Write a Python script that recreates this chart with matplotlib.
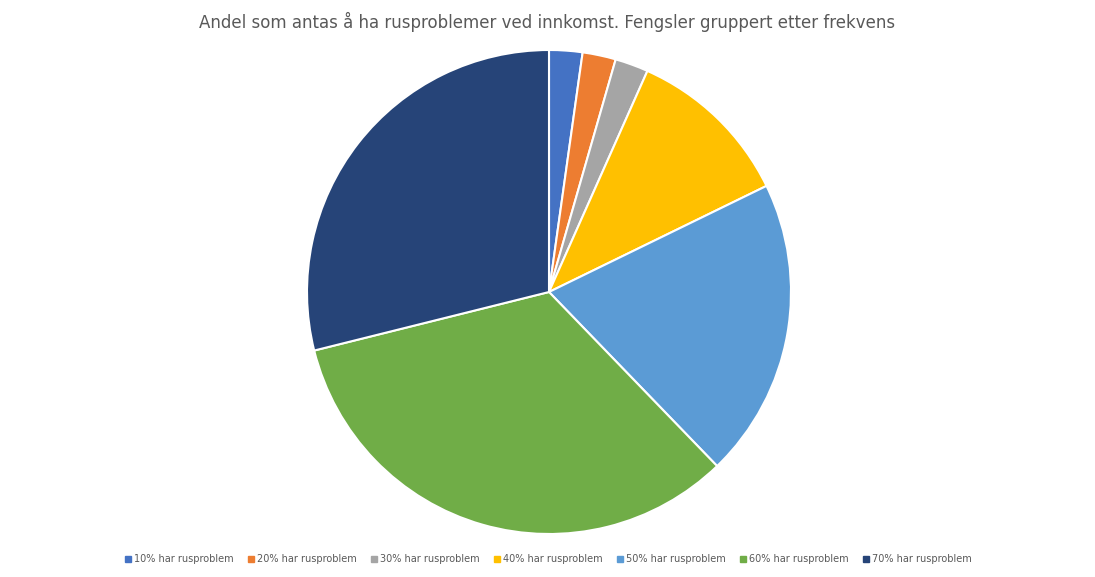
import matplotlib
matplotlib.use("Agg")
import matplotlib.pyplot as plt
from matplotlib.lines import Line2D

labels = ["10% har rusproblem", "20% har rusproblem", "30% har rusproblem", "40% har rusproblem",
          "50% har rusproblem", "60% har rusproblem", "70% har rusproblem"]
values = [1, 1, 1, 5, 9, 15, 13]
colors = ["#4472C4", "#ED7D31", "#A5A5A5", "#FFC000", "#5B9BD5", "#70AD47", "#264478"]

fig = plt.figure(figsize=(10.95, 5.77), dpi=100)
ax = fig.add_axes([0, 0, 1, 1])
ax.set_xlim(0, 1095); ax.set_ylim(577, 0); ax.axis("off")
pax = fig.add_axes([(549-242)/1095, 1-(292+242)/577, 484/1095, 484/577])
pax.pie(values, colors=colors, startangle=90, counterclock=False, radius=1,
        wedgeprops=dict(edgecolor="white", linewidth=1.5))
pax.set_xlim(-1, 1); pax.set_ylim(-1, 1)
pax.set_aspect("equal")
fig.text(0.5, 1-22/577, "Andel som antas å ha rusproblemer ved innkomst. Fengsler gruppert etter frekvens",
         ha="center", va="center", fontsize=12, color="#595959")
handles = [Line2D([], [], marker="s", linestyle="", color=c, markersize=4) for c in colors]
fig.legend(handles, labels, loc="center", bbox_to_anchor=(0.5, 1-559/577), ncol=7, frameon=False,
           fontsize=7, labelcolor="#595959", handletextpad=0.1, columnspacing=1.3, handlelength=1)
fig.savefig("out.png", dpi=100, facecolor="white")
